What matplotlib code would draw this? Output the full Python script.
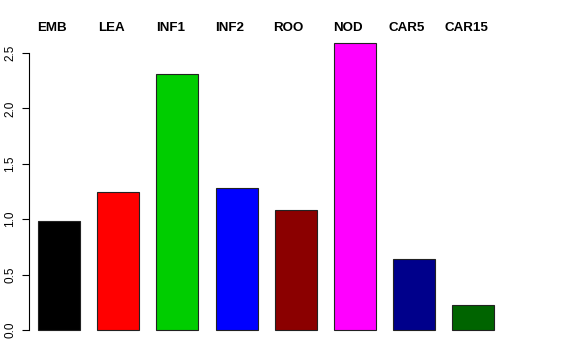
import numpy as np
import matplotlib
matplotlib.use("Agg")
import matplotlib.pyplot as plt

# Datos
etiquetas = ["EMB", "LEA", "INF1", "INF2", "ROO", "NOD", "CAR5", "CAR15"]
valores = [0.985, 1.245, 2.31, 1.28, 1.085, 2.59, 0.64, 0.225]
colores = ["#000000", "#FF0000", "#00CD00", "#0000FF",
           "#8B0000", "#FF00FF", "#00008B", "#006400"]
ticks_y = [0.0, 0.5, 1.0, 1.5, 2.0, 2.5]

plt.rcParams["font.family"] = ["Liberation Sans", "DejaVu Sans"]

fig = plt.figure(figsize=(5.76, 3.6), dpi=100)
ax = fig.add_axes([29 / 576, 1 - 341.5 / 360, (550 - 29) / 576, (341.5 - 31.5) / 360])

x = np.arange(len(etiquetas))
ax.bar(x, valores, width=0.71, color=colores, edgecolor="#222222", linewidth=0.8)

ax.set_xlim(-0.508, 7 + (550 - 473.5) / 59)
ax.set_ylim(-0.1036, 2.6936)

# Etiquetas arriba, estilo R
for xi, lab in zip(x, etiquetas):
    ax.text(xi - 0.12, 2.726, lab, ha="center", va="center",
            fontsize=9.6, fontweight="bold", clip_on=False)

for s in ["top", "right", "bottom"]:
    ax.spines[s].set_visible(False)
ax.spines["left"].set_bounds(0, 2.5)
ax.spines["left"].set_linewidth(0.8)
ax.set_xticks([])
ax.set_yticks(ticks_y)
ax.set_yticklabels([f"{t:.1f}" for t in ticks_y], rotation=90, va="center", fontsize=8.5)
ax.tick_params(axis="y", length=5, width=0.8, pad=4)

fig.savefig("out.png", dpi=100)
